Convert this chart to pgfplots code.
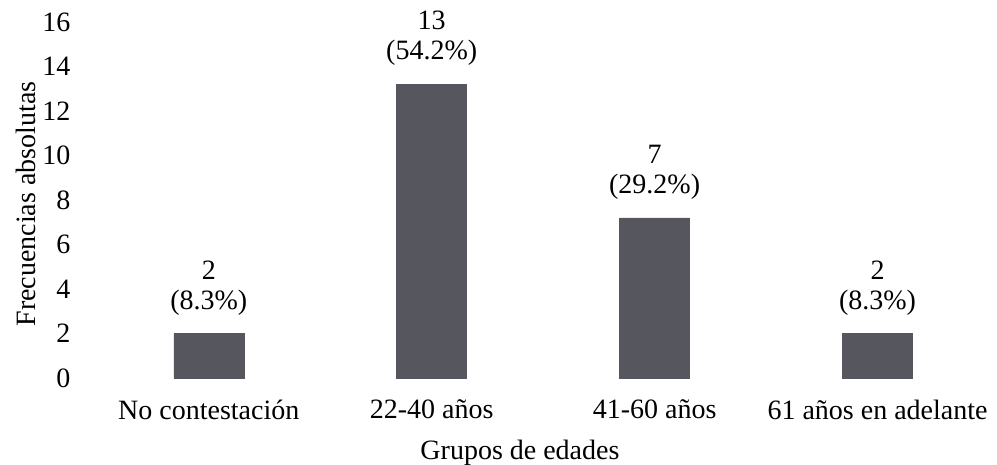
\documentclass[border=0pt]{standalone}
\usepackage{pgfplots}
\pgfplotsset{compat=1.18}
\usepackage{fontspec}
\setmainfont{Liberation Serif}
\definecolor{barc}{RGB}{86,86,94}
\begin{document}
\fontsize{28}{30}\selectfont
\begin{tikzpicture}
\begin{axis}[
  scale only axis,
  width=914pt, height=356pt,
  xmin=-0.6, xmax=3.5,
  ymin=0, ymax=16,
  ytick={0,2,...,16},
  xtick={0,1,2,3},
  xticklabels={No contestación,22-40 años,41-60 años,61 años en adelante},
  axis line style={draw=none},
  tick style={draw=none},
  /pgf/number format/assume math mode=true,
  ticklabel style={font=\fontsize{28}{30}\selectfont},
  label style={font=\fontsize{28}{30}\selectfont},
  xticklabel style={yshift=-8pt},
  yticklabel style={xshift=5pt},
  xlabel={Grupos de edades},
  ylabel={Frecuencias absolutas},
  xlabel style={yshift=-2pt, xshift=-12pt},
  ylabel style={yshift=-12pt, xshift=-4pt},
  ybar, bar width=70pt,
  point meta=explicit symbolic,
  nodes near coords,
  every node near coord/.append style={align=center, font=\fontsize{28}{30}\selectfont, yshift=9pt},
  clip=false,
]
\addplot[fill=barc, draw=barc] coordinates {
  (0,2) [{2\\(8.3\%)}]
  (1,13.2) [{13\\(54.2\%)}]
  (2,7.2) [{7\\(29.2\%)}]
  (3,2) [{2\\(8.3\%)}]
};
\end{axis}
\pgfresetboundingbox
\useasboundingbox (-75pt,-86pt) rectangle (922pt,378pt);
\end{tikzpicture}
\end{document}
